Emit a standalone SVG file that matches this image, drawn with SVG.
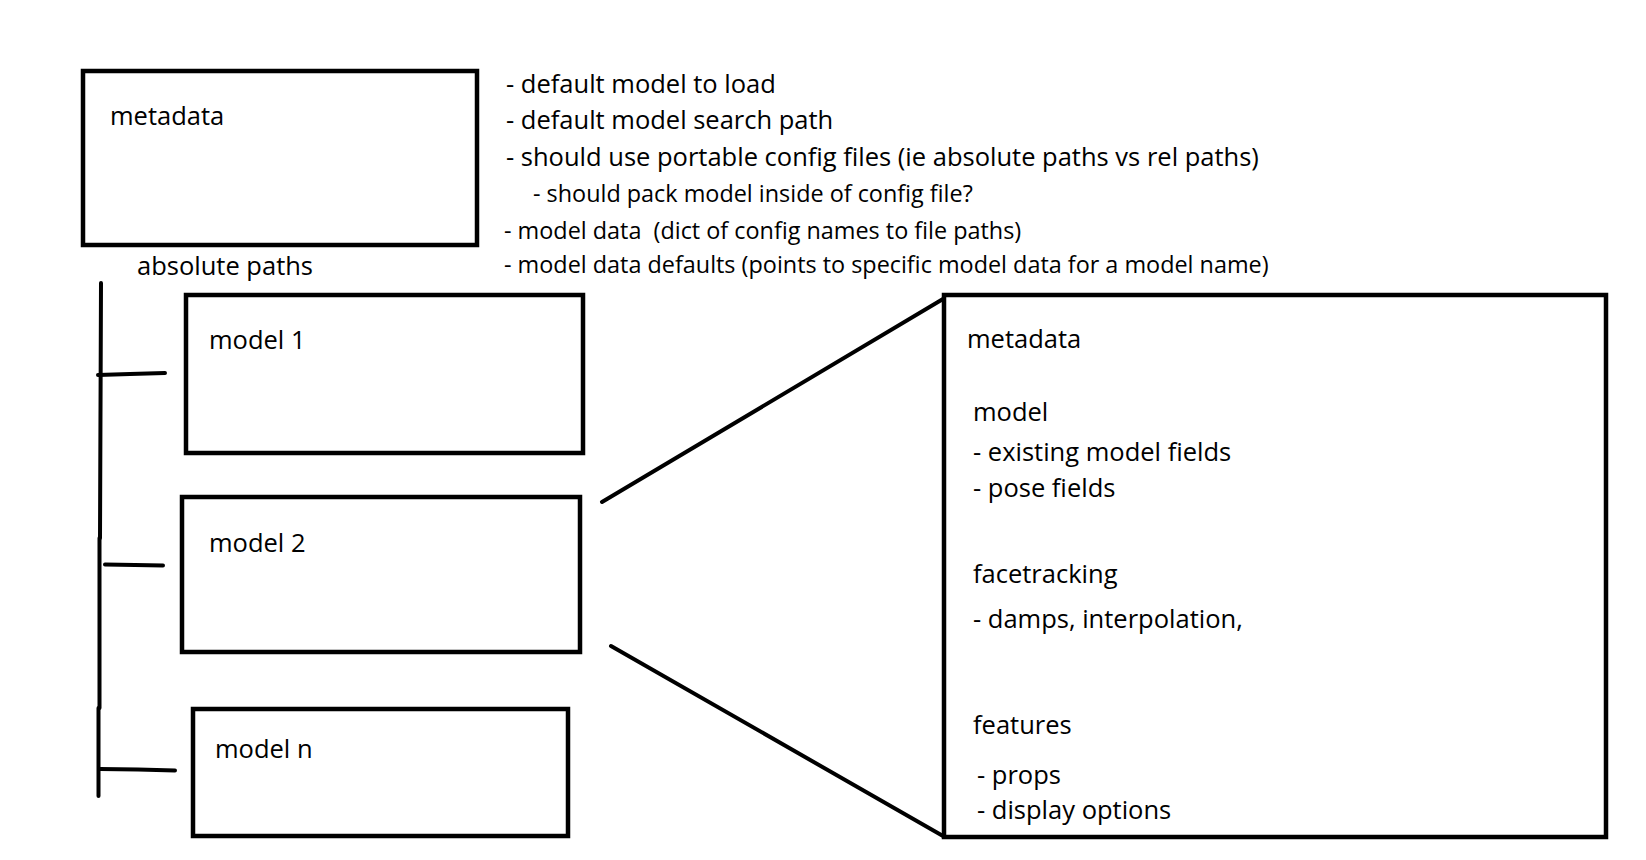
<svg xmlns="http://www.w3.org/2000/svg" width="1646" height="860" viewBox="0 0 1646 860">
<style>
.box{fill:none;stroke:#000;stroke-width:4.5}
.ln{fill:none;stroke:#000;stroke-width:4;stroke-linecap:round}
text{font-family:"Open Sans","Liberation Sans",sans-serif;font-size:25.5px;fill:#000}
.sm{font-size:23.4px}
</style>
<rect width="1646" height="860" fill="#fff"/>
<g id="connectors">
<path class="ln" d="M101,283 L100,538"/>
<path class="ln" d="M99.5,538 L99.5,708"/>
<path class="ln" d="M98.5,708 L98.5,796"/>
<path class="ln" d="M98,375 L130,374 L165,373"/>
<path class="ln" d="M105,564.5 L135,565 L163,565.5"/>
<path class="ln" d="M100,769 L138,769.5 L175,770.5"/>
<path class="ln" d="M602,502 L943,299"/>
<path class="ln" d="M611,646 L943,836"/>
</g>
<g id="metadata">
<rect class="box" x="83" y="71" width="394" height="174"/>
<text x="110" y="125">metadata</text>
</g>
<g id="metadata-notes">
<text x="506" y="93">- default model to load</text>
<text x="506" y="129">- default model search path</text>
<text x="506" y="166">- should use portable config files (ie absolute paths vs rel paths)</text>
<text class="sm" x="533" y="202">- should pack model inside of config file?</text>
<text class="sm" x="504" y="239" xml:space="preserve">- model data  (dict of config names to file paths)</text>
<text class="sm" x="504" y="273">- model data defaults (points to specific model data for a model name)</text>
</g>
<g id="absolute-paths">
<text x="137" y="275">absolute paths</text>
</g>
<g id="model1">
<rect class="box" x="186" y="295" width="397" height="158"/>
<text x="209" y="349">model 1</text>
</g>
<g id="model2">
<rect class="box" x="182" y="497" width="398" height="155"/>
<text x="209" y="552">model 2</text>
</g>
<g id="modeln">
<rect class="box" x="193" y="709" width="375" height="127"/>
<text x="215" y="758">model n</text>
</g>
<g id="model-detail">
<rect class="box" x="944" y="295" width="662" height="542"/>
<text x="967" y="348">metadata</text>
<text x="973" y="421">model</text>
<text x="973" y="461">- existing model fields</text>
<text x="973" y="497">- pose fields</text>
<text x="973" y="583">facetracking</text>
<text x="973" y="628">- damps, interpolation,</text>
<text x="973" y="734">features</text>
<text x="977" y="784">- props</text>
<text x="977" y="819">- display options</text>
</g>
</svg>
